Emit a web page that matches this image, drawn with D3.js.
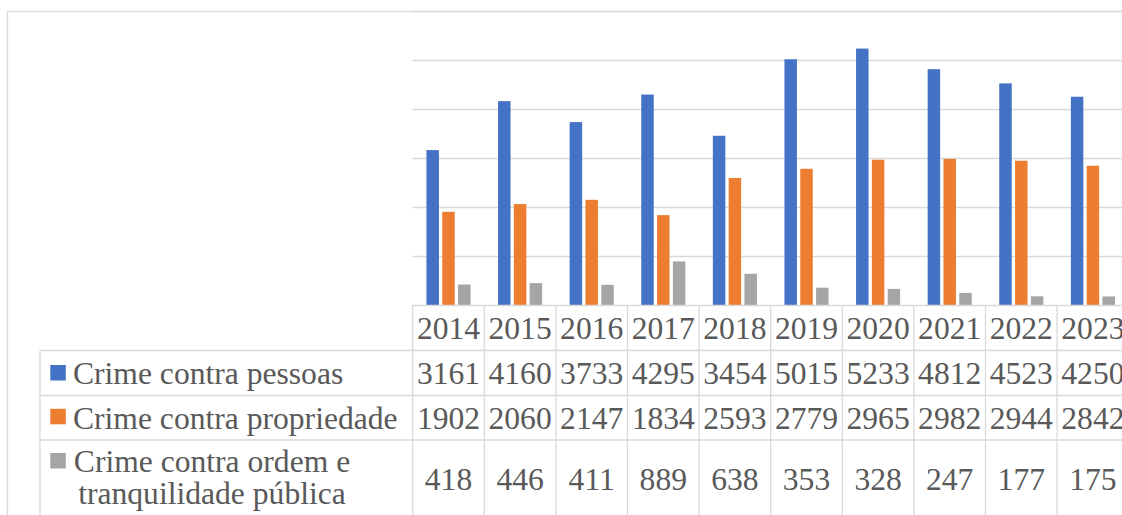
<!DOCTYPE html>
<html>
<head>
<meta charset="utf-8">
<script src="https://cdn.jsdelivr.net/npm/d3@7"></script>
<style>
  html, body { margin: 0; padding: 0; background: #ffffff; overflow: hidden; }
  svg { display: block; }
</style>
</head>
<body>
<svg id="chart" width="1122" height="515"></svg>
<script>
// ---- data ----
const years = ["2014","2015","2016","2017","2018","2019","2020","2021","2022","2023"];
const seriesNames = ["Crime contra pessoas", "Crime contra propriedade", "Crime contra ordem e tranquilidade pública"];
const legendLines = [["Crime contra pessoas"], ["Crime contra propriedade"], ["Crime contra ordem e", "tranquilidade pública"]];
const pessoas     = [3161, 4160, 3733, 4295, 3454, 5015, 5233, 4812, 4523, 4250];
const propriedade = [1902, 2060, 2147, 1834, 2593, 2779, 2965, 2982, 2944, 2842];
const ordem       = [418, 446, 411, 889, 638, 353, 328, 247, 177, 175];
const seriesValues = [pessoas, propriedade, ordem];
const seriesColors = ["#4472C4", "#ED7D31", "#A5A5A5"];
const yTicks = [0, 1000, 2000, 3000, 4000, 5000, 6000];

// ---- layout ----
const svg = d3.select("#chart");
const plotLeft = 412.7, colW = 71.6;
const plotRight = plotLeft + colW * years.length;
const yTop = 11, yBase = 305;
const textColor = "#595959", lineColor = "#D9D9D9";
const font = "'Liberation Serif', 'Times New Roman', serif";
const fontSize = 31.6;

// chart outer border
svg.append("rect")
  .attr("x", 7.5).attr("y", 11.5)
  .attr("width", 1140).attr("height", 540)
  .attr("fill", "#fff").attr("stroke", lineColor).attr("stroke-width", 1.3);

const x0 = d3.scaleBand().domain(years).range([plotLeft, plotRight]).padding(0);
const inset = 13.75;
const x1 = d3.scaleBand().domain(d3.range(seriesNames.length))
  .range([inset, colW - inset]).paddingInner(0.21).paddingOuter(0);
const y = d3.scaleLinear().domain([0, 6000]).range([yBase, yTop]);

// gridlines
svg.append("g").selectAll("line")
  .data(yTicks.filter(t => t > 0))
  .join("line")
  .attr("x1", plotLeft).attr("x2", 1140)
  .attr("y1", d => Math.round(y(d)) + 0.5).attr("y2", d => Math.round(y(d)) + 0.5)
  .attr("stroke", lineColor).attr("stroke-width", 1.3);

// bars
const groups = svg.append("g").selectAll("g")
  .data(years)
  .join("g")
  .attr("transform", d => `translate(${x0(d)},0)`);

groups.selectAll("rect")
  .data((d, i) => seriesValues.map((vals, s) => ({ s, v: vals[i] })))
  .join("rect")
  .attr("x", d => x1(d.s))
  .attr("width", x1.bandwidth())
  .attr("y", d => y(d.v))
  .attr("height", d => yBase - y(d.v))
  .attr("fill", d => seriesColors[d.s]);

// ---- data table ----
const tableLeft = 40;
const rowEdges = [305, 350.5, 395.5, 440, 520];
const tbl = svg.append("g");

// horizontal lines
tbl.append("line")
  .attr("x1", plotLeft).attr("x2", 1140)
  .attr("y1", rowEdges[0] + 0.5).attr("y2", rowEdges[0] + 0.5)
  .attr("stroke", lineColor).attr("stroke-width", 1.3);
rowEdges.slice(1).forEach(ry => {
  tbl.append("line")
    .attr("x1", tableLeft).attr("x2", 1140)
    .attr("y1", ry).attr("y2", ry)
    .attr("stroke", lineColor).attr("stroke-width", 1.3);
});
// vertical lines
tbl.append("line")
  .attr("x1", tableLeft).attr("x2", tableLeft)
  .attr("y1", rowEdges[1]).attr("y2", 520)
  .attr("stroke", lineColor).attr("stroke-width", 1.3);
tbl.selectAll("line.v")
  .data(years.concat(["end"]))
  .join("line")
  .attr("class", "v")
  .attr("x1", (d, i) => plotLeft + i * colW).attr("x2", (d, i) => plotLeft + i * colW)
  .attr("y1", rowEdges[0]).attr("y2", 520)
  .attr("stroke", lineColor).attr("stroke-width", 1.3);

// header (years)
tbl.selectAll("text.year")
  .data(years)
  .join("text")
  .attr("class", "year")
  .attr("x", d => x0(d) + colW / 2)
  .attr("y", 339)
  .attr("text-anchor", "middle")
  .attr("font-family", font).attr("font-size", fontSize)
  .attr("fill", textColor)
  .text(d => d);

// value rows
const rowBaselines = [383.5, 428.5, 490];
seriesValues.forEach((vals, s) => {
  tbl.selectAll("text.val" + s)
    .data(vals)
    .join("text")
    .attr("class", "val" + s)
    .attr("x", (d, i) => x0(years[i]) + colW / 2)
    .attr("y", rowBaselines[s])
    .attr("text-anchor", "middle")
    .attr("font-family", font).attr("font-size", fontSize)
    .attr("fill", textColor)
    .text(d => d);
});

// legend keys + labels
const keyY = [365, 408.8, 453];
const labelBaselines = [[383.5], [428.5], [472], [472, 503.5]];
legendLines.forEach((lines, s) => {
  tbl.append("rect")
    .attr("x", 50.3).attr("y", keyY[s])
    .attr("width", 15.5).attr("height", 15.5)
    .attr("fill", seriesColors[s]);
  const t = tbl.append("text")
    .attr("font-family", font).attr("font-size", fontSize)
    .attr("fill", textColor);
  if (lines.length === 1) {
    t.append("tspan").attr("x", 73).attr("y", labelBaselines[s][0]).text(lines[0]);
  } else {
    lines.forEach((ln, k) => {
      t.append("tspan").attr("x", 212).attr("y", labelBaselines[3][k])
        .attr("text-anchor", "middle").text(ln);
    });
  }
});
</script>
</body>
</html>
